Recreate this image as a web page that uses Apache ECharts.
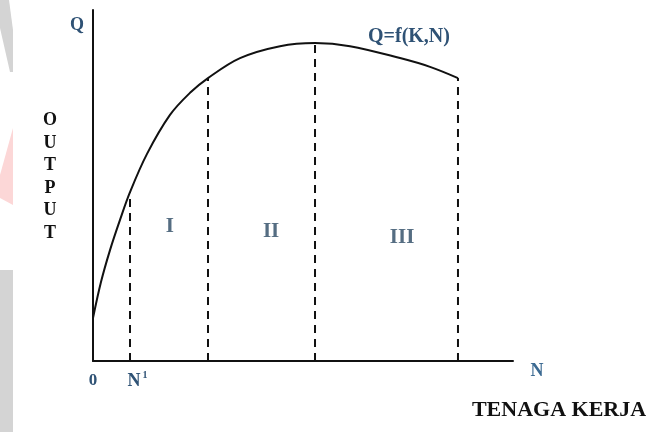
<!DOCTYPE html>
<html>
<head>
<meta charset="utf-8">
<script src="https://cdn.jsdelivr.net/npm/echarts@6/dist/echarts.min.js"></script>
<style>html,body{margin:0;padding:0;background:#fff}#c{width:653px;height:432px}</style>
</head>
<body>
<div id="c"></div>
<script>
// Production curve Q = f(K,N): labour (0-100) vs output (0-100)
var labourN = [0, 1.9, 4.05, 6.43, 8.81, 12.86, 18.33, 23.1, 27.38, 35.0, 44.52, 52.86, 61.19, 73.1, 80.24, 86.9];
var outputQ = [12.25, 22.5, 31.6, 40.2, 48.1, 59.0, 70.1, 76.4, 80.6, 86.3, 89.7, 90.6, 89.7, 86.3, 83.8, 80.6];
// Stage boundaries (indices into curve arrays)
var boundaryIdx = [4, 8, 11, 15];
var stageNames = ['I', 'II', 'III'];
var stageLabelPos = [[18.3, 38.2], [42.4, 36.8], [73.6, 35.3]];

var curve = labourN.map(function (x, i) { return [x, outputQ[i]]; });
var series = [{
  type: 'line', data: curve, smooth: 0.35, symbol: 'none',
  lineStyle: { color: '#111', width: 2 }, z: 3
}];
boundaryIdx.forEach(function (k) {
  series.push({
    type: 'line', data: [[labourN[k], 0], [labourN[k], outputQ[k]]], symbol: 'none',
    lineStyle: { color: '#111', width: 2, type: [8, 6] }, z: 2
  });
});
series.push({
  type: 'scatter', symbolSize: 0,
  data: stageLabelPos.map(function (p, i) { return { value: p, name: stageNames[i] }; }),
  label: { show: true, formatter: '{b}', position: 'inside',
    fontFamily: 'Liberation Serif', fontWeight: 'bold', fontSize: 21, color: '#2a4863' }
});

var chart = echarts.init(document.getElementById('c'));
var serif = 'Liberation Serif';
var blue = '#2f5275';
chart.setOption({
  animation: false,
  grid: { left: 93, right: 140, top: 10, bottom: 71 },
  xAxis: { type: 'value', min: 0, max: 100, axisLine: { show: true, lineStyle: { color: '#111', width: 2 } },
    axisTick: { show: false }, axisLabel: { show: false }, splitLine: { show: false } },
  yAxis: { type: 'value', min: 0, max: 100, axisLine: { show: true, lineStyle: { color: '#111', width: 2 } },
    axisTick: { show: false }, axisLabel: { show: false }, splitLine: { show: false } },
  series: series,
  graphic: [
    { type: 'polygon', shape: { points: [[0, 0], [9, 0], [13, 30], [13, 72], [10, 72], [0, 28]] }, style: { fill: '#d4d4d4' } },
    { type: 'polygon', shape: { points: [[13, 128], [13, 205], [0, 198], [0, 175]] }, style: { fill: '#fcd7d7' } },
    { type: 'rect', shape: { x: 0, y: 270, width: 13, height: 162 }, style: { fill: '#d4d4d4' } },
    { type: 'text', x: 77, y: 25, style: { text: 'Q', font: 'bold 18px ' + serif, fill: blue, align: 'center', verticalAlign: 'middle' } },
    { type: 'text', x: 50, y: 109, style: { text: 'O\nU\nT\nP\nU\nT', font: 'bold 18px ' + serif, fill: '#111', align: 'center', lineHeight: 22.6 } },
    { type: 'text', x: 93, y: 381, style: { text: '0', font: 'bold 17px ' + serif, fill: blue, align: 'center', verticalAlign: 'middle' } },
    { type: 'text', x: 134, y: 381, style: { text: 'N', font: 'bold 18px ' + serif, fill: blue, align: 'center', verticalAlign: 'middle' } },
    { type: 'text', x: 145, y: 375, style: { text: '1', font: 'bold 10px ' + serif, fill: blue, align: 'center', verticalAlign: 'middle' } },
    { type: 'text', x: 537, y: 371, style: { text: 'N', font: 'bold 18px ' + serif, fill: '#3c6a92', align: 'center', verticalAlign: 'middle' } },
    { type: 'text', x: 559, y: 410, style: { text: 'TENAGA KERJA', font: 'bold 22px ' + serif, fill: '#111', align: 'center', verticalAlign: 'middle' } },
    { type: 'text', x: 409, y: 37, style: { text: 'Q=f(K,N)', font: 'bold 20px ' + serif, fill: blue, align: 'center', verticalAlign: 'middle' } }
  ]
});
</script>
</body>
</html>
